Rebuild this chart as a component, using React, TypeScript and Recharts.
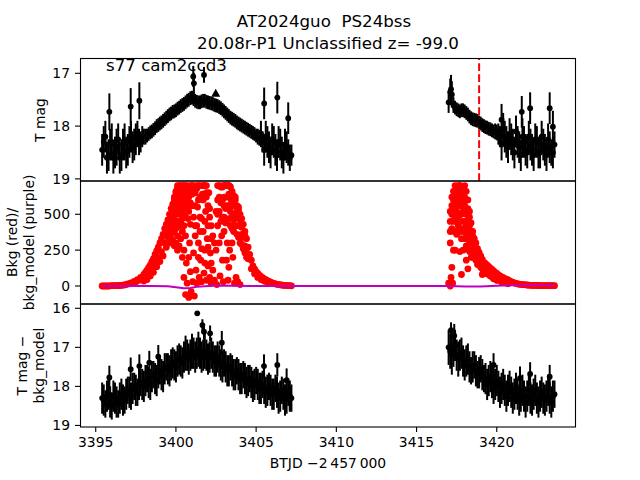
import React from 'react';
import { ComposedChart, Scatter, XAxis, YAxis, ErrorBar, ReferenceLine } from 'recharts';

// ---- data (BTJD - 2457000) ----
// cadences on the even tenths of a day
const orbit1Time = [
  3395.4, 3395.6, 3395.8, 3396.0, 3396.2, 3396.4, 3396.6, 3396.8, 3397.0, 3397.2,
  3397.4, 3397.6, 3397.8, 3398.0, 3398.2, 3398.4, 3398.6, 3398.8, 3399.0, 3399.2,
  3399.4, 3399.6, 3399.8, 3400.0, 3400.2, 3400.4, 3400.6, 3400.8, 3401.0, 3401.2,
  3401.4, 3401.6, 3401.8, 3402.0, 3402.2, 3402.4, 3402.6, 3402.8, 3403.0, 3403.2,
  3403.4, 3403.6, 3403.8, 3404.0, 3404.2, 3404.4, 3404.6, 3404.8, 3405.0, 3405.2,
  3405.4, 3405.6, 3405.8, 3406.0, 3406.2, 3406.4, 3406.6, 3406.8, 3407.0, 3407.2,
];
const orbit2Time = [
  3417.0, 3417.2, 3417.4, 3417.6, 3417.8, 3418.0, 3418.2, 3418.4, 3418.6, 3418.8,
  3419.0, 3419.2, 3419.4, 3419.6, 3419.8, 3420.0, 3420.2, 3420.4, 3420.6, 3420.8,
  3421.0, 3421.2, 3421.4, 3421.6, 3421.8, 3422.0, 3422.2, 3422.4, 3422.6, 3422.8,
  3423.0, 3423.2, 3423.4, 3423.6,
];
// cadences on the odd tenths of a day
const orbit1TimeB = [
  3395.5, 3395.7, 3395.9, 3396.1, 3396.3, 3396.5, 3396.7, 3396.9, 3397.1, 3397.3,
  3397.5, 3397.7, 3397.9, 3398.1, 3398.3, 3398.5, 3398.7, 3398.9, 3399.1, 3399.3,
  3399.5, 3399.7, 3399.9, 3400.1, 3400.3, 3400.5, 3400.7, 3400.9, 3401.1, 3401.3,
  3401.5, 3401.7, 3401.9, 3402.1, 3402.3, 3402.5, 3402.7, 3402.9, 3403.1, 3403.3,
  3403.5, 3403.7, 3403.9, 3404.1, 3404.3, 3404.5, 3404.7, 3404.9, 3405.1, 3405.3,
  3405.5, 3405.7, 3405.9, 3406.1, 3406.3, 3406.5, 3406.7, 3406.9, 3407.1,
];
const orbit2TimeB = [
  3417.1, 3417.3, 3417.5, 3417.7, 3417.9, 3418.1, 3418.3, 3418.5, 3418.7, 3418.9,
  3419.1, 3419.3, 3419.5, 3419.7, 3419.9, 3420.1, 3420.3, 3420.5, 3420.7, 3420.9,
  3421.1, 3421.3, 3421.5, 3421.7, 3421.9, 3422.1, 3422.3, 3422.5, 3422.7, 3422.9,
  3423.1, 3423.3, 3423.5,
];

// T mag
const tmag1 = [
  18.45, 18.2, 18.55, 18.3, 18.5, 18.25, 18.55, 18.3, 18.45, 18.2,
  18.35, 18.15, 18.3, 18.2, 18.18, 18.12, 18.07, 18.0, 17.95, 17.9,
  17.84, 17.78, 17.73, 17.7, 17.65, 17.6, 17.55, 17.5, 17.46, 17.52,
  17.55, 17.53, 17.52, 17.55, 17.57, 17.6, 17.62, 17.66, 17.72, 17.78,
  17.84, 17.88, 17.93, 17.97, 18.01, 18.05, 18.09, 18.13, 18.18, 18.22,
  18.3, 18.2, 18.4, 18.25, 18.45, 18.3, 18.5, 18.35, 18.5, 18.55,
];
const tmagErr1 = [
  0.3, 0.3, 0.3, 0.35, 0.3, 0.3, 0.3, 0.35, 0.3, 0.3,
  0.3, 0.25, 0.2, 0.15, 0.13, 0.13, 0.13, 0.13, 0.13, 0.13,
  0.13, 0.13, 0.13, 0.13, 0.13, 0.13, 0.13, 0.13, 0.13, 0.13,
  0.13, 0.13, 0.13, 0.13, 0.13, 0.13, 0.13, 0.13, 0.13, 0.13,
  0.13, 0.13, 0.13, 0.13, 0.13, 0.13, 0.13, 0.13, 0.13, 0.15,
  0.2, 0.3, 0.3, 0.3, 0.3, 0.3, 0.3, 0.3, 0.25, 0.2,
];
const tmag1b = [
  18.3, 18.6, 18.35, 18.6, 18.4, 18.6, 18.35, 18.5, 18.3, 18.4,
  18.25, 18.3, 18.2, 18.2, 18.15, 18.1, 18.04, 17.98, 17.93, 17.87,
  17.81, 17.76, 17.72, 17.67, 17.62, 17.58, 17.52, 17.47, 17.49, 17.54,
  17.55, 17.52, 17.54, 17.56, 17.58, 17.61, 17.64, 17.69, 17.75, 17.81,
  17.86, 17.9, 17.95, 17.99, 18.03, 18.07, 18.11, 18.15, 18.2, 18.15,
  18.45, 18.3, 18.5, 18.3, 18.55, 18.35, 18.6, 18.4, 18.6,
];
const tmagErr1b = [
  0.3, 0.3, 0.3, 0.3, 0.35, 0.3, 0.3, 0.3, 0.3, 0.3,
  0.3, 0.25, 0.2, 0.15, 0.13, 0.13, 0.13, 0.13, 0.13, 0.13,
  0.13, 0.13, 0.13, 0.13, 0.13, 0.13, 0.13, 0.13, 0.13, 0.13,
  0.13, 0.13, 0.13, 0.13, 0.13, 0.13, 0.13, 0.13, 0.13, 0.13,
  0.13, 0.13, 0.13, 0.13, 0.13, 0.13, 0.13, 0.13, 0.15, 0.25,
  0.3, 0.3, 0.3, 0.3, 0.3, 0.3, 0.3, 0.3, 0.25,
];
const tmag2 = [
  17.55, 17.4, 17.65, 17.7, 17.7, 17.72, 17.78, 17.85, 17.88, 17.9,
  17.95, 18.0, 18.03, 18.06, 18.1, 18.12, 18.2, 18.05, 18.3, 18.15,
  18.35, 18.1, 18.4, 18.2, 18.45, 18.2, 18.45, 18.25, 18.5, 18.2,
  18.45, 18.25, 18.5, 18.35,
];
const tmagErr2 = [
  0.2, 0.25, 0.13, 0.13, 0.13, 0.13, 0.13, 0.13, 0.13, 0.13,
  0.13, 0.13, 0.13, 0.13, 0.13, 0.15, 0.2, 0.3, 0.3, 0.3,
  0.3, 0.3, 0.3, 0.35, 0.3, 0.3, 0.3, 0.3, 0.3, 0.3,
  0.3, 0.3, 0.25, 0.25,
];
const tmag2b = [
  17.35, 17.6, 17.68, 17.72, 17.7, 17.75, 17.82, 17.87, 17.89, 17.93,
  17.98, 18.02, 18.05, 18.08, 18.1, 18.15, 18.35, 18.2, 18.4, 18.25,
  18.5, 18.3, 18.55, 18.3, 18.5, 18.35, 18.55, 18.3, 18.5, 18.35,
  18.55, 18.4, 18.5,
];
const tmagErr2b = [
  0.25, 0.15, 0.13, 0.13, 0.13, 0.13, 0.13, 0.13, 0.13, 0.13,
  0.13, 0.13, 0.13, 0.13, 0.15, 0.2, 0.3, 0.3, 0.3, 0.3,
  0.3, 0.3, 0.3, 0.3, 0.3, 0.3, 0.3, 0.3, 0.3, 0.3,
  0.3, 0.3, 0.3,
];
// [time, mag, err]
const tmagOutliers = [
  [3395.85, 17.73, 0.35], [3397.18, 17.63, 0.35], [3397.72, 17.52, 0.35],
  [3401.08, 17.06, 0.2], [3401.12, 17.19, 0.2], [3401.75, 17.03, 0.15],
  [3405.5, 17.57, 0.3], [3406.32, 17.46, 0.3], [3407.0, 17.85, 0.3],
  [3417.15, 17.3, 0.27], [3420.3, 17.88, 0.3], [3421.56, 17.73, 0.3],
  [3422.08, 17.66, 0.3], [3423.3, 17.66, 0.3], [3423.5, 18.01, 0.3],
];
const limitPoint = [[3402.48, 17.38]];
const discoveryTime = 3418.9;

// background flux
const bkg1 = [
  0, 0, 0, 2, 3, 3, 5, 8, 15, 22,
  32, 45, 60, 80, 110, 145, 190, 245, 300, 360,
  430, 500, 570, 660, 700, 700, 700, 690, 700, 650,
  700, 620, 700, 560, 420, 300, 600, 690, 700, 700,
  690, 630, 560, 500, 430, 330, 220, 140, 100, 75,
  58, 45, 32, 22, 15, 10, 7, 4, 2, 1,
];
const bkg1b = [
  0, 0, 1, 2, 3, 4, 6, 10, 15, 20,
  28, 40, 55, 95, 130, 170, 220, 270, 330, 400,
  460, 540, 620, 700, 690, 700, 640, 700, 680, 700,
  620, 700, 650, 480, 350, 520, 700, 690, 700, 700,
  660, 600, 530, 470, 380, 270, 180, 120, 88, 65,
  50, 38, 27, 18, 12, 8, 5, 3, 2,
];
const bkg2 = [
  20, 500, 620, 700, 690, 700, 600, 440, 330, 260,
  210, 165, 145, 125, 105, 88, 70, 58, 48, 35,
  25, 18, 13, 10, 8, 6, 5, 4, 4, 3,
  3, 3, 2, 2,
];
const bkg2b = [
  300, 560, 680, 700, 650, 660, 520, 380, 300, 235,
  185, 155, 135, 115, 95, 78, 64, 52, 42, 30,
  22, 15, 11, 9, 7, 5, 4, 4, 3, 3,
  3, 2, 2,
];
// [time, bkg] scattered cadences
const bkgScatter = [
  [3398.0, 35], [3398.1, 60], [3398.2, 45], [3398.3, 95], [3398.4, 70], [3398.5, 120],
  [3398.6, 95], [3398.7, 160], [3398.8, 135], [3398.9, 200], [3399.0, 170], [3399.1, 240],
  [3399.2, 210], [3399.3, 300], [3399.4, 270], [3399.5, 370], [3399.6, 320], [3399.7, 440],
  [3399.8, 390], [3399.9, 520], [3400.0, 450], [3400.1, 600], [3400.0, 600], [3400.1, 680],
  [3400.15, 520], [3400.25, 640], [3400.35, 600], [3400.45, 660], [3400.55, 640],
  [3400.3, 520], [3400.4, 380], [3400.5, 250], [3400.5, 60], [3400.6, -60], [3400.65, 160],
  [3400.7, 20], [3400.75, 470], [3400.8, -80], [3400.85, 300], [3400.9, 100], [3400.95, -40],
  [3401.0, 560], [3401.05, 30], [3401.1, 230], [3401.15, -70], [3401.2, 420], [3401.25, 110],
  [3401.3, 20], [3401.35, 550], [3401.4, 300], [3401.45, 60], [3401.5, 480], [3401.55, 180],
  [3401.6, 30], [3401.65, 640], [3401.7, 380], [3401.75, 90], [3401.8, 250], [3401.85, 520],
  [3401.9, 40], [3401.95, 330], [3402.0, 140], [3402.05, 650], [3402.1, 60], [3402.15, 230],
  [3402.2, 20], [3402.3, 110], [3402.4, 40], [3402.5, 250], [3402.55, 10], [3402.6, 420],
  [3402.7, 520], [3402.75, 70], [3402.85, 350], [3402.9, 600], [3402.95, 30], [3403.0, 480],
  [3403.1, 620], [3403.15, 180], [3403.2, 560], [3403.25, 40], [3403.3, 640], [3403.35, 250],
  [3403.45, 600], [3403.55, 200], [3403.65, 20], [3403.75, 60], [3403.85, 30], [3404.0, 10],
  [3403.5, 560], [3403.7, 500], [3403.9, 420], [3404.1, 360], [3404.3, 280], [3404.5, 190],
  [3404.7, 120], [3404.9, 85], [3405.1, 60], [3405.3, 45], [3405.5, 35], [3405.7, 25], [3405.9, 18],
  [3417.1, 0], [3417.15, 60], [3417.2, 130], [3417.25, 20], [3417.3, 520], [3417.3, 250],
  [3417.35, 380], [3417.4, 250], [3417.45, 560], [3417.5, 450], [3417.6, 560], [3417.7, 240],
  [3417.7, 500], [3417.8, 80], [3417.8, 400], [3417.9, 250], [3417.9, 600], [3418.0, 450],
  [3418.1, 180], [3418.1, 340], [3418.2, 120], [3418.3, 300], [3418.4, 250], [3418.5, 200],
  [3418.6, 230], [3418.7, 180], [3418.8, 150], [3418.9, 150], [3419.0, 130], [3419.1, 80],
  [3419.1, 120], [3419.2, 110], [3419.3, 100], [3419.4, 85], [3419.5, 80], [3419.6, 70],
  [3419.7, 65], [3419.8, 50], [3419.9, 50], [3420.0, 40], [3420.1, 40], [3420.3, 28],
  [3420.5, 22], [3420.7, 16],
];
// dense parts of the background humps: [time, values at that time]
const bkgColumns: [number, number[]][] = [
  [3399.5, [300, 340, 400]],
  [3399.6, [330, 380, 440]],
  [3399.7, [300, 360, 420, 480]],
  [3399.8, [320, 420, 480, 530]],
  [3399.9, [280, 380, 460, 560, 600]],
  [3400.0, [300, 400, 500, 550, 650]],
  [3400.1, [250, 350, 450, 560, 630]],
  [3400.2, [280, 420, 500, 580, 660]],
  [3400.3, [330, 450, 560, 700]],
  [3400.4, [200, 470, 540, 620]],
  [3400.5, [420, 500, 580, 690]],
  [3400.6, [350, 480, 560, 650]],
  [3400.7, [540, 600, 700]],
  [3400.8, [200, 520, 620]],
  [3400.9, [430, 580, 660]],
  [3401.0, [640]],
  [3401.1, [700, 480]],
  [3401.2, [560, 350]],
  [3401.3, [680, 420]],
  [3401.4, [600, 200]],
  [3401.5, [700, 380]],
  [3401.6, [470, 260]],
  [3401.7, [600, 700]],
  [3401.8, [450, 160]],
  [3401.9, [620, 700]],
  [3402.0, [420, 270]],
  [3402.1, [540]],
  [3402.2, [330, 160]],
  [3402.6, [500, 700]],
  [3402.7, [620, 300]],
  [3402.8, [450, 580]],
  [3402.9, [480, 700, 180]],
  [3403.0, [560, 620, 380]],
  [3403.1, [440, 540, 700]],
  [3403.2, [450, 620, 300]],
  [3403.3, [470, 560, 700, 130]],
  [3403.4, [420, 520, 620]],
  [3403.5, [400, 480, 640, 300]],
  [3403.6, [380, 460, 560]],
  [3403.7, [420, 560, 620]],
  [3403.8, [360, 480, 520]],
  [3403.9, [340, 480, 550]],
  [3404.0, [300, 420, 460]],
  [3404.1, [290, 410]],
  [3404.2, [260, 340]],
  [3404.3, [230, 350]],
  [3404.4, [200, 260]],
  [3417.1, [380, 450, 520]],
  [3417.2, [400, 560, 620]],
  [3417.3, [450, 600, 660]],
  [3417.4, [380, 480, 540, 700]],
  [3417.5, [360, 520, 600, 640]],
  [3417.6, [420, 480, 620, 660]],
  [3417.7, [380, 580, 650, 700]],
  [3417.8, [330, 500, 560, 640]],
  [3417.9, [380, 450, 520, 680]],
  [3418.0, [330, 400, 560, 620]],
  [3418.1, [280, 420, 500, 600]],
  [3418.2, [260, 380, 460, 540]],
  [3418.3, [240, 340, 420, 480]],
  [3418.4, [200, 300, 380]],
  [3418.5, [250, 300, 350]],
  [3418.6, [200, 270]],
  [3418.7, [220, 250]],
  [3418.8, [180, 210]],
];
// [time, bkg_model]
const bkgModel = [
  [3395.4, 0], [3396.5, 0], [3397.5, 0], [3398.5, 0], [3399.5, -2], [3400.0, -8],
  [3400.5, -15], [3400.9, -14], [3401.3, -6], [3401.8, -2], [3402.3, 2], [3402.8, 4],
  [3403.5, 2], [3404.5, 0], [3405.5, 0], [3406.5, 0], [3407.2, 0],
  [3417.0, 0], [3418.0, -4], [3419.0, -3], [3420.0, 2], [3421.0, 6], [3422.0, 6], [3423.6, 6],
];

// T mag - bkg_model
const diff1 = [
  18.3, 18.45, 18.2, 18.5, 18.3, 18.45, 18.2, 18.35, 18.1, 18.25,
  18.0, 18.15, 17.9, 18.0, 17.8, 17.95, 17.7, 17.85, 17.6, 17.75,
  17.5, 17.6, 17.4, 17.5, 17.3, 17.4, 17.15, 17.3, 17.1, 17.25,
  17.05, 17.25, 17.1, 17.3, 17.15, 17.35, 17.25, 17.45, 17.4, 17.6,
  17.5, 17.7, 17.6, 17.8, 17.7, 17.9, 17.8, 18.0, 17.85, 18.05,
  17.95, 18.15, 18.0, 18.2, 18.05, 18.3, 18.1, 18.35, 18.15, 18.3,
];
const diffErr1 = [
  0.4, 0.35, 0.4, 0.35, 0.4, 0.35, 0.4, 0.35, 0.35, 0.35,
  0.35, 0.35, 0.35, 0.4, 0.35, 0.4, 0.35, 0.4, 0.35, 0.4,
  0.35, 0.4, 0.4, 0.4, 0.4, 0.4, 0.45, 0.4, 0.45, 0.4,
  0.45, 0.4, 0.45, 0.4, 0.4, 0.4, 0.4, 0.4, 0.35, 0.4,
  0.35, 0.4, 0.35, 0.4, 0.35, 0.4, 0.35, 0.4, 0.35, 0.4,
  0.35, 0.4, 0.35, 0.4, 0.35, 0.4, 0.35, 0.4, 0.35, 0.35,
];
const diff1b = [
  18.35, 18.25, 18.4, 18.25, 18.4, 18.3, 18.35, 18.2, 18.15, 18.05,
  18.1, 17.95, 17.95, 17.85, 17.9, 17.75, 17.8, 17.65, 17.7, 17.55,
  17.55, 17.45, 17.45, 17.35, 17.35, 17.25, 17.2, 17.2, 17.15, 17.15,
  17.15, 17.2, 17.2, 17.25, 17.25, 17.35, 17.35, 17.5, 17.5, 17.6,
  17.6, 17.7, 17.7, 17.8, 17.8, 17.85, 17.9, 17.95, 17.95, 18.05,
  18.05, 18.1, 18.1, 18.2, 18.15, 18.25, 18.2, 18.3, 18.25,
];
const diffErr1b = [
  0.4, 0.4, 0.4, 0.4, 0.4, 0.4, 0.4, 0.4, 0.4, 0.4,
  0.4, 0.4, 0.4, 0.4, 0.4, 0.4, 0.4, 0.4, 0.4, 0.4,
  0.4, 0.4, 0.4, 0.4, 0.4, 0.4, 0.4, 0.4, 0.4, 0.4,
  0.4, 0.4, 0.4, 0.4, 0.4, 0.4, 0.4, 0.4, 0.4, 0.4,
  0.4, 0.4, 0.4, 0.4, 0.4, 0.4, 0.4, 0.4, 0.4, 0.4,
  0.4, 0.4, 0.4, 0.4, 0.4, 0.4, 0.4, 0.4, 0.4,
];
const diff2 = [
  17.0, 17.2, 16.95, 17.3, 17.15, 17.45, 17.3, 17.6, 17.45, 17.7,
  17.55, 17.8, 17.95, 17.75, 18.05, 17.85, 18.15, 17.95, 18.25, 18.0,
  18.3, 18.05, 18.35, 18.1, 18.4, 18.1, 18.35, 18.1, 18.4, 18.15,
  18.35, 18.1, 18.4, 18.2,
];
const diffErr2 = [
  0.45, 0.5, 0.4, 0.45, 0.4, 0.4, 0.4, 0.35, 0.35, 0.35,
  0.35, 0.35, 0.4, 0.4, 0.4, 0.4, 0.4, 0.4, 0.4, 0.4,
  0.4, 0.4, 0.4, 0.4, 0.4, 0.4, 0.4, 0.4, 0.4, 0.4,
  0.4, 0.4, 0.4, 0.35,
];
const diff2b = [
  17.1, 17.05, 17.2, 17.2, 17.35, 17.35, 17.5, 17.5, 17.6, 17.65,
  17.7, 17.8, 17.85, 17.9, 17.95, 18.0, 18.05, 18.1, 18.1, 18.15,
  18.2, 18.2, 18.25, 18.25, 18.25, 18.3, 18.2, 18.3, 18.25, 18.3,
  18.25, 18.3, 18.25,
];
const diffErr2b = [
  0.45, 0.45, 0.4, 0.4, 0.4, 0.4, 0.4, 0.4, 0.4, 0.4,
  0.4, 0.4, 0.4, 0.4, 0.4, 0.4, 0.4, 0.4, 0.4, 0.4,
  0.4, 0.4, 0.4, 0.4, 0.4, 0.4, 0.4, 0.4, 0.4, 0.4,
  0.4, 0.4, 0.4,
];
const diffOutliers = [
  [3395.85, 17.77, 0.3], [3397.18, 17.56, 0.3], [3397.72, 17.48, 0.3], [3398.34, 17.39, 0.3],
  [3398.9, 17.24, 0.3], [3401.33, 16.13, 0.05], [3401.65, 16.43, 0.15], [3401.75, 16.6, 0.2],
  [3402.13, 16.64, 0.2], [3402.86, 16.88, 0.3], [3405.49, 17.48, 0.3], [3406.32, 17.45, 0.3],
  [3406.9, 17.84, 0.3], [3407.1, 18.31, 0.3], [3417.15, 16.56, 0.2], [3417.35, 16.7, 0.3],
  [3419.8, 17.45, 0.3], [3421.45, 17.79, 0.3], [3422.08, 17.68, 0.3], [3423.3, 17.75, 0.3],
];

const xTicks = [3395, 3400, 3405, 3410, 3415, 3420];

// ---- rows for recharts ----
const rowsFrom = (time: number[], y: number[], e?: number[]) =>
  time.map((t, i) => ({ t, y: y[i], e: e ? e[i] : 0 }));

const tmagRows = [
  ...rowsFrom(orbit1Time, tmag1, tmagErr1),
  ...rowsFrom(orbit1TimeB, tmag1b, tmagErr1b),
  ...rowsFrom(orbit2Time, tmag2, tmagErr2),
  ...rowsFrom(orbit2TimeB, tmag2b, tmagErr2b),
];
const tmagOutRows = tmagOutliers.map(([t, y, e]) => ({ t, y, e }));
const limitRows = limitPoint.map(([t, y]) => ({ t, y }));
const bkgRows = [
  ...rowsFrom(orbit1Time, bkg1),
  ...rowsFrom(orbit1TimeB, bkg1b),
  ...rowsFrom(orbit2Time, bkg2),
  ...rowsFrom(orbit2TimeB, bkg2b),
  ...bkgScatter.map(([t, y]) => ({ t, y, e: 0 })),
  ...bkgColumns.flatMap(([t, vals]) => vals.map((y) => ({ t, y, e: 0 }))),
];
const modelRows = bkgModel.map(([t, y]) => ({ t, y }));
const diffRows = [
  ...rowsFrom(orbit1Time, diff1, diffErr1),
  ...rowsFrom(orbit1TimeB, diff1b, diffErr1b),
  ...rowsFrom(orbit2Time, diff2, diffErr2),
  ...rowsFrom(orbit2TimeB, diff2b, diffErr2b),
];
const diffOutRows = diffOutliers.map(([t, y, e]) => ({ t, y, e }));

// ---- styling ----
const FONT = '"DejaVu Sans", sans-serif';
const X_DOMAIN: [number, number] = [3394.02, 3424.94];
const tickStyle = { fontSize: 13.9, fill: '#000', fontFamily: FONT };
const margin = { top: 10, right: 64, bottom: 10, left: 0 };

const blackDot = (p: any) => <circle cx={p.cx} cy={p.cy} r={2.9} fill="#000" />;
const redDot = (p: any) => <circle cx={p.cx} cy={p.cy} r={3.4} fill="#ff0000" />;
const triangle = (p: any) => (
  <polygon
    points={`${p.cx},${p.cy - 4.5} ${p.cx - 4.5},${p.cy + 3.5} ${p.cx + 4.5},${p.cy + 3.5}`}
    fill="#000"
  />
);
const noDot = () => <g />;

function yAxis(domain: [number, number], ticks: number[], reversed: boolean) {
  return (
    <YAxis
      type="number"
      dataKey="y"
      domain={domain}
      ticks={ticks}
      reversed={reversed}
      allowDataOverflow
      interval={0}
      width={80}
      tick={tickStyle}
      tickSize={5}
      tickMargin={5}
      axisLine={false}
      tickLine={{ stroke: '#000', strokeWidth: 1.1 }}
    />
  );
}

const hiddenX = <XAxis type="number" dataKey="t" domain={X_DOMAIN} allowDataOverflow hide />;

export default function App() {
  return (
    <div style={{ position: 'absolute', left: 0, top: 0, width: 640, height: 480, background: '#fff' }}>
      <div style={{ position: 'absolute', left: 0, top: 48 }}>
        <ComposedChart width={640} height={143} margin={margin}>
          {hiddenX}
          {yAxis([16.71, 19.04], [17, 18, 19], true)}
          <Scatter data={tmagRows} shape={blackDot} isAnimationActive={false}>
            <ErrorBar dataKey="e" direction="y" width={0} stroke="#000" strokeWidth={2} />
          </Scatter>
          <Scatter data={tmagOutRows} shape={blackDot} isAnimationActive={false}>
            <ErrorBar dataKey="e" direction="y" width={0} stroke="#000" strokeWidth={2} />
          </Scatter>
          <Scatter data={limitRows} shape={triangle} isAnimationActive={false} />
          <ReferenceLine x={discoveryTime} stroke="#ff0000" strokeWidth={2} strokeDasharray="7.7 3.3" />
        </ComposedChart>
      </div>

      <div style={{ position: 'absolute', left: 0, top: 171 }}>
        <ComposedChart width={640} height={143} margin={margin}>
          {hiddenX}
          {yAxis([-125.5, 732], [0, 250, 500], false)}
          <Scatter data={bkgRows} shape={redDot} isAnimationActive={false} />
          <Scatter
            data={modelRows}
            shape={noDot}
            line={{ stroke: '#bf00bf', strokeWidth: 2 }}
            isAnimationActive={false}
          />
        </ComposedChart>
      </div>

      <div style={{ position: 'absolute', left: 0, top: 294 }}>
        <ComposedChart width={640} height={173} margin={{ ...margin, bottom: 0 }}>
          <XAxis
            type="number"
            dataKey="t"
            domain={X_DOMAIN}
            allowDataOverflow
            ticks={xTicks}
            interval={0}
            height={40}
            tick={tickStyle}
            tickSize={5}
            tickMargin={5}
            axisLine={false}
            tickLine={{ stroke: '#000', strokeWidth: 1.1 }}
          />
          {yAxis([15.89, 19.04], [16, 17, 18, 19], true)}
          <Scatter data={diffRows} shape={blackDot} isAnimationActive={false}>
            <ErrorBar dataKey="e" direction="y" width={0} stroke="#000" strokeWidth={2} />
          </Scatter>
          <Scatter data={diffOutRows} shape={blackDot} isAnimationActive={false}>
            <ErrorBar dataKey="e" direction="y" width={0} stroke="#000" strokeWidth={2} />
          </Scatter>
        </ComposedChart>
      </div>

      <svg
        width={640}
        height={480}
        style={{ position: 'absolute', left: 0, top: 0, pointerEvents: 'none' }}
        fontFamily={FONT}
      >
        <rect x={80.5} y={58.5} width={495} height={122.5} fill="none" stroke="#000" strokeWidth={1.1} />
        <rect x={80.5} y={181} width={495} height={123} fill="none" stroke="#000" strokeWidth={1.1} />
        <rect x={80.5} y={304} width={495} height={123} fill="none" stroke="#000" strokeWidth={1.1} />

        <text x={324} y={26.7} fontSize={16.67} textAnchor="middle" style={{ whiteSpace: 'pre' }}>
          AT2024guo  PS24bss
        </text>
        <text x={328} y={49.3} fontSize={16.67} textAnchor="middle">
          20.08r-P1 Unclassified z= -99.0
        </text>
        <text x={106} y={70.5} fontSize={16.67}>s77 cam2ccd3</text>

        <text transform="translate(39.5,120) rotate(-90)" fontSize={13.9} textAnchor="middle" dominantBaseline="central">
          T mag
        </text>
        <text transform="translate(12,242.4) rotate(-90)" fontSize={13.9} textAnchor="middle" dominantBaseline="central">
          Bkg (red)/
        </text>
        <text transform="translate(28.5,242.4) rotate(-90)" fontSize={13.9} textAnchor="middle" dominantBaseline="central">
          bkg_model (purple)
        </text>
        <text transform="translate(22,365.6) rotate(-90)" fontSize={13.9} textAnchor="middle" dominantBaseline="central">
          T mag −
        </text>
        <text transform="translate(38.5,365.6) rotate(-90)" fontSize={13.9} textAnchor="middle" dominantBaseline="central">
          bkg_model
        </text>
        <text x={328} y={468} fontSize={13.9} textAnchor="middle">
          BTJD −2{'\u2009'}457{'\u2009'}000
        </text>
      </svg>
    </div>
  );
}
